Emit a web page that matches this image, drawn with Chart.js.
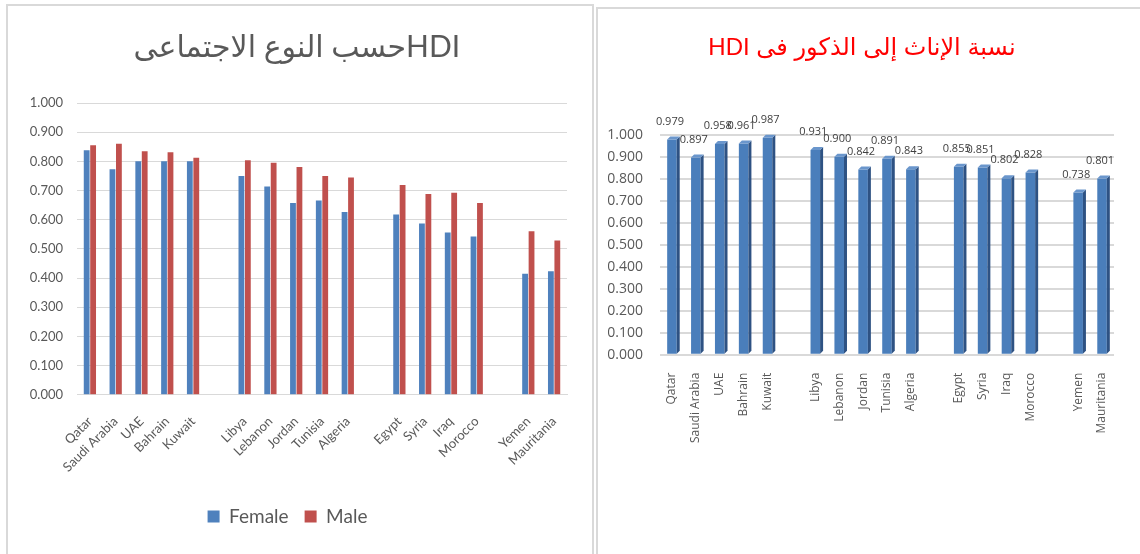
<!DOCTYPE html>
<html>
<head>
<meta charset="utf-8">
<script src="https://cdn.jsdelivr.net/npm/chart.js@4.4.0/dist/chart.umd.min.js"></script>
<style>
    body { margin: 0; background: #fff; width: 1140px; height: 554px; overflow: hidden; position: relative; }
    .frame { position: absolute; border: 2px solid #d9d9d9; }
    #leftFrame { left: 6px; top: 4px; width: 584px; height: 570px; }
    #rightFrame { left: 596px; top: 7px; width: 570px; height: 570px; border-right: none; border-bottom: none; }
    canvas { position: absolute; }
    #hdiChart { left: 8px; top: 6px; }
    #ratioChart { left: 598px; top: 10px; }
</style>
</head>
<body>
<div class="frame" id="leftFrame"></div>
<div class="frame" id="rightFrame"></div>
<canvas id="hdiChart" width="583" height="548"></canvas>
<canvas id="ratioChart" width="542" height="544"></canvas>
<script>
// empty strings are the gaps between country groups
const countries = ['Qatar', 'Saudi Arabia', 'UAE', 'Bahrain', 'Kuwait', '',
    'Libya', 'Lebanon', 'Jordan', 'Tunisia', 'Algeria', '',
    'Egypt', 'Syria', 'Iraq', 'Morocco', '',
    'Yemen', 'Mauritania'];

const femaleHdi = [0.838, 0.773, 0.800, 0.800, 0.800, null,
    0.750, 0.714, 0.657, 0.666, 0.626, null,
    0.618, 0.587, 0.556, 0.542, null,
    0.415, 0.423];

const maleHdi = [0.855, 0.860, 0.835, 0.831, 0.812, null,
    0.804, 0.795, 0.781, 0.750, 0.745, null,
    0.719, 0.688, 0.692, 0.657, null,
    0.560, 0.529];

const femaleToMale = [0.979, 0.897, 0.958, 0.961, 0.987, null,
    0.931, 0.900, 0.842, 0.891, 0.843, null,
    0.855, 0.851, 0.802, 0.828, null,
    0.738, 0.801];

const leftTitle = 'HDIحسب النوع الاجتماعى';
const rightTitle = 'نسبة الإناث إلى الذكور فى HDI';

// wrap in RLE ... PDF so the canvas lays the title out right-to-left,
// the leading spaces nudge the centred text a little to the right
const rtl = (s, pad) => pad + '\u202B' + s + '\u202C';
const grey = '#595959';

new Chart(document.getElementById('hdiChart'), {
    type: 'bar',
    data: {
        labels: countries,
        datasets: [{
            label: 'Female',
            data: femaleHdi,
            backgroundColor: '#4f81bd',
            categoryPercentage: 0.5,
            barPercentage: 0.9
        }, {
            label: 'Male',
            data: maleHdi,
            backgroundColor: '#c0504d',
            categoryPercentage: 0.5,
            barPercentage: 0.9
        }]
    },
    options: {
        responsive: false,
        animation: false,
        layout: {
            padding: { top: 0, left: 0, right: 24, bottom: 18 }
        },
        plugins: {
            title: {
                display: true,
                text: rtl(leftTitle, '\u2002\u2009'),
                color: grey,
                font: { family: 'Lato, "DejaVu Sans"', size: 30, weight: 'normal' },
                padding: { top: 23, bottom: 38 }
            },
            legend: {
                position: 'bottom',
                labels: {
                    color: grey,
                    boxWidth: 12,
                    boxHeight: 12,
                    padding: 16,
                    font: { family: 'Lato', size: 19 }
                }
            },
            tooltip: { enabled: false }
        },
        scales: {
            x: {
                grid: { display: false },
                border: { color: '#d9d9d9' },
                afterFit: (scale) => { scale.height += 5; },
                ticks: {
                    color: grey,
                    autoSkip: false,
                    minRotation: 45,
                    maxRotation: 45,
                    padding: 11,
                    font: { family: 'Lato', size: 13 }
                }
            },
            y: {
                min: 0,
                max: 1,
                border: { display: false },
                grid: { color: '#d9d9d9', drawTicks: false },
                afterFit: (scale) => { scale.width = 69; },
                ticks: {
                    stepSize: 0.1,
                    color: grey,
                    padding: 14,
                    font: { family: 'Lato', size: 13 },
                    callback: (v) => v.toFixed(3)
                }
            }
        }
    }
});

// fake 3d faces and value labels for the ratio bars
const barFaces = {
    id: 'barFaces',
    afterDatasetsDraw(chart) {
        const ctx = chart.ctx;
        const meta = chart.getDatasetMeta(0);
        meta.data.forEach((bar, i) => {
            if (femaleToMale[i] == null) return;
            const { x, y, base, width } = bar.getProps(['x', 'y', 'base', 'width'], true);
            const l = x - width / 2, r = x + width / 2, d = 3;
            ctx.save();
            ctx.fillStyle = '#2e5283';
            ctx.beginPath();
            ctx.moveTo(r, y); ctx.lineTo(r + d, y - d); ctx.lineTo(r + d, base - d); ctx.lineTo(r, base);
            ctx.closePath();
            ctx.fill();
            ctx.fillStyle = '#6a96cc';
            ctx.beginPath();
            ctx.moveTo(l, y); ctx.lineTo(l + d, y - d); ctx.lineTo(r + d, y - d); ctx.lineTo(r, y);
            ctx.closePath();
            ctx.fill();

            ctx.fillStyle = '#404040';
            ctx.font = '11px "Open Sans"';
            ctx.textAlign = 'center';
            ctx.textBaseline = 'middle';
            ctx.fillText(femaleToMale[i].toFixed(3), x - 2, y - 18);
            ctx.restore();
        });
    }
};

new Chart(document.getElementById('ratioChart'), {
    type: 'bar',
    data: {
        labels: countries,
        datasets: [{
            label: 'ratio',
            data: femaleToMale,
            backgroundColor: '#4a7ebb',
            categoryPercentage: 1,
            barPercentage: 0.4
        }]
    },
    options: {
        responsive: false,
        animation: false,
        layout: {
            padding: { top: 0, left: 0, right: 26, bottom: 101 }
        },
        plugins: {
            title: {
                display: true,
                text: rtl(rightTitle, '\u2002'),
                color: '#ff0000',
                font: { family: '"Liberation Sans", "DejaVu Sans"', size: 24, weight: 'normal' },
                padding: { top: 24, bottom: 72 }
            },
            legend: { display: false },
            tooltip: { enabled: false }
        },
        scales: {
            x: {
                grid: { display: false },
                border: { display: false },
                ticks: {
                    color: grey,
                    autoSkip: false,
                    minRotation: 90,
                    maxRotation: 90,
                    padding: 10,
                    font: { family: '"Open Sans"', size: 12 }
                }
            },
            y: {
                min: 0,
                max: 1,
                border: { display: false },
                grid: { color: '#d9d9d9', lineWidth: 2, drawTicks: false },
                afterFit: (scale) => { scale.width = 62; },
                ticks: {
                    stepSize: 0.1,
                    color: grey,
                    padding: 17,
                    font: { family: '"Open Sans"', size: 14 },
                    callback: (v) => v.toFixed(3)
                }
            }
        }
    },
    plugins: [barFaces]
});
</script>
</body>
</html>
